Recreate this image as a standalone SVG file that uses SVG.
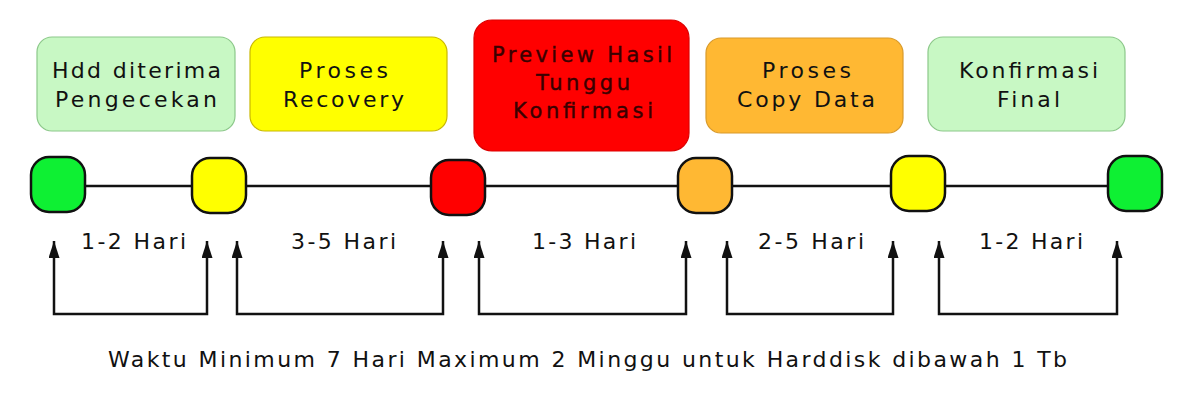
<svg xmlns="http://www.w3.org/2000/svg" width="1200" height="400" viewBox="0 0 1200 400">
<style>
  text { font-family: "DejaVu Sans", "Liberation Sans", Arial, sans-serif; font-size: 22px; fill: #111; }
  .box { stroke-width: 1.2; }
  .green { fill: #c8f8c4; stroke: #8cc88a; }
  .yellow { fill: #ffff00; stroke: #c9b800; }
  .red { fill: #ff0000; stroke: #dd0000; }
  .orange { fill: #ffb833; stroke: #d99a2a; }
  .node { stroke: #111; stroke-width: 2.5; }
  .ng { fill: #0ef033; }
  .ny { fill: #ffff00; }
  .nr { fill: #ff0000; }
  .no { fill: #ffb833; }
  .conn { fill: none; stroke: #111; stroke-width: 2.5; }
  .redtext { fill: #3a0000; stroke: #3a0000; stroke-width: 0.4; font-size: 21px; }
</style>
<defs>
  <marker id="ah" markerUnits="userSpaceOnUse" markerWidth="17" markerHeight="11" viewBox="0 0 17 11" refX="17" refY="5.5" orient="auto-start-reverse">
    <path d="M0,0 L17,5.5 L0,11 z" fill="#111"/>
  </marker>
</defs>
<rect width="1200" height="400" fill="#ffffff"/>

<g id="box-hdd">
  <rect class="box green" x="37" y="37" width="198" height="94" rx="15"/>
  <text x="52" y="78" textLength="169" lengthAdjust="spacing">Hdd diterima</text>
  <text x="55" y="107" textLength="162" lengthAdjust="spacing">Pengecekan</text>
</g>
<g id="box-recovery">
  <rect class="box yellow" x="250" y="37" width="197" height="94" rx="15"/>
  <text x="299" y="78" textLength="89" lengthAdjust="spacing">Proses</text>
  <text x="283" y="107" textLength="121" lengthAdjust="spacing">Recovery</text>
</g>
<g id="box-preview">
  <rect class="box red" x="474" y="20" width="215" height="131" rx="18"/>
  <text class="redtext" x="492" y="62" textLength="180" lengthAdjust="spacing">Preview Hasil</text>
  <text class="redtext" x="536" y="90" textLength="94" lengthAdjust="spacing">Tunggu</text>
  <text class="redtext" x="513" y="118" textLength="140" lengthAdjust="spacing">Konfirmasi</text>
</g>
<g id="box-copy">
  <rect class="box orange" x="706" y="38" width="197" height="95" rx="15"/>
  <text x="762" y="78" textLength="89" lengthAdjust="spacing">Proses</text>
  <text x="737" y="107" textLength="138" lengthAdjust="spacing">Copy Data</text>
</g>
<g id="box-final">
  <rect class="box green" x="928" y="37" width="197" height="94" rx="15"/>
  <text x="959" y="78" textLength="139" lengthAdjust="spacing">Konfirmasi</text>
  <text x="997" y="107" textLength="63" lengthAdjust="spacing">Final</text>
</g>

<g id="timeline">
  <line x1="85" y1="186" x2="1108" y2="186" stroke="#111" stroke-width="2.5"/>
</g>

<g id="node-1"><rect class="node ng" x="31" y="157" width="54" height="55" rx="18"/></g>
<g id="node-2"><rect class="node ny" x="192" y="158" width="54" height="55" rx="18"/></g>
<g id="node-3"><rect class="node nr" x="431" y="160" width="54" height="55" rx="18"/></g>
<g id="node-4"><rect class="node no" x="678" y="158" width="54" height="55" rx="18"/></g>
<g id="node-5"><rect class="node ny" x="891" y="156" width="54" height="55" rx="18"/></g>
<g id="node-6"><rect class="node ng" x="1108" y="156" width="54" height="55" rx="18"/></g>

<g id="connectors">
  <path class="conn" d="M54,241 V314 H207 V241" marker-start="url(#ah)" marker-end="url(#ah)"/>
  <path class="conn" d="M237,241 V314 H443 V241" marker-start="url(#ah)" marker-end="url(#ah)"/>
  <path class="conn" d="M479,241 V314 H686 V241" marker-start="url(#ah)" marker-end="url(#ah)"/>
  <path class="conn" d="M727,241 V314 H893 V241" marker-start="url(#ah)" marker-end="url(#ah)"/>
  <path class="conn" d="M939,241 V314 H1117 V241" marker-start="url(#ah)" marker-end="url(#ah)"/>
</g>

<g id="labels">
  <text x="81" y="249" textLength="105" lengthAdjust="spacing">1-2 Hari</text>
  <text x="291" y="249" textLength="105" lengthAdjust="spacing">3-5 Hari</text>
  <text x="532" y="249" textLength="104" lengthAdjust="spacing">1-3 Hari</text>
  <text x="758" y="249" textLength="106" lengthAdjust="spacing">2-5 Hari</text>
  <text x="979" y="249" textLength="104" lengthAdjust="spacing">1-2 Hari</text>
</g>

<g id="caption">
  <text x="108" y="367" textLength="959" lengthAdjust="spacing">Waktu Minimum 7 Hari Maximum 2 Minggu untuk Harddisk dibawah 1 Tb</text>
</g>
</svg>
